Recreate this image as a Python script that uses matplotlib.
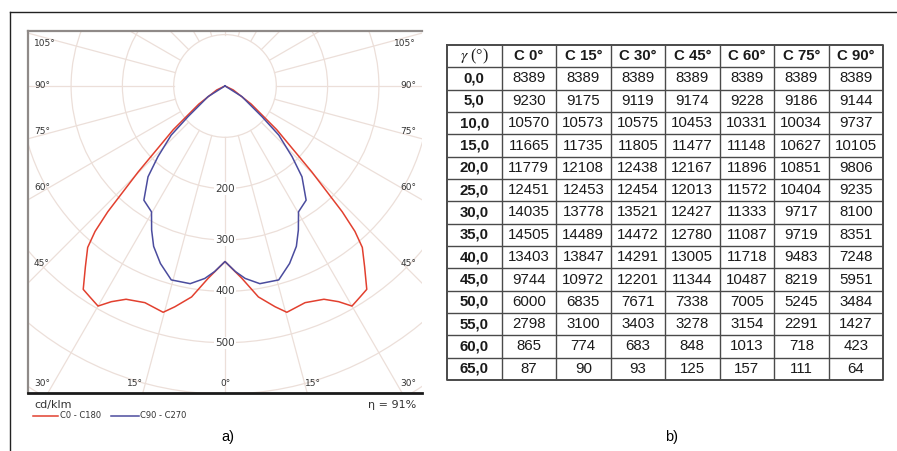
import numpy as np
import matplotlib.pyplot as plt
from matplotlib.patches import Circle
from matplotlib.lines import Line2D

plt.rcParams['mathtext.fontset'] = 'stix'

# a) polar diagram (gamma in deg, cd/klm)
gamma_c0 = [0, 5, 9, 12.8, 15.3, 20.3, 24.9, 27.8, 30, 32.7, 34.9, 37.7,
            40.4, 41.8, 43, 45.3, 49.8, 55.3, 64, 69]
cd_c0 = [342, 376, 416, 441, 457, 450, 458, 475, 495, 488, 483, 445,
         413, 380, 335, 238, 132, 62, 18, 0]
gamma_c90 = [0, 3.2, 6, 10, 15.5, 20, 24, 27, 30.3, 35.4, 40.3, 43.5,
             47.6, 50.3, 57.8, 66]
cd_c90 = [342, 362, 377, 391, 392, 368, 342, 315, 284, 273, 232, 190,
          142, 94, 39, 0]
ring_labels = [200, 300, 400, 500]

# b) table
table_cols = ['C 0°', 'C 15°', 'C 30°', 'C 45°', 'C 60°', 'C 75°', 'C 90°']
table_gamma = ['0,0', '5,0', '10,0', '15,0', '20,0', '25,0', '30,0',
               '35,0', '40,0', '45,0', '50,0', '55,0', '60,0', '65,0']
c0 = [8389, 9230, 10570, 11665, 11779, 12451, 14035, 14505, 13403, 9744, 6000, 2798, 865, 87]
c15 = [8389, 9175, 10573, 11735, 12108, 12453, 13778, 14489, 13847, 10972, 6835, 3100, 774, 90]
c30 = [8389, 9119, 10575, 11805, 12438, 12454, 13521, 14472, 14291, 12201, 7671, 3403, 683, 93]
c45 = [8389, 9174, 10453, 11477, 12167, 12013, 12427, 12780, 13005, 11344, 7338, 3278, 848, 125]
c60 = [8389, 9228, 10331, 11148, 11896, 11572, 11333, 11087, 11718, 10487, 7005, 3154, 1013, 157]
c75 = [8389, 9186, 10034, 10627, 10851, 10404, 9717, 9719, 9483, 8219, 5245, 2291, 718, 111]
c90 = [8389, 9144, 9737, 10105, 9806, 9235, 8100, 8351, 7248, 5951, 3484, 1427, 423, 64]
table_vals = [c0, c15, c30, c45, c60, c75, c90]

W, H = 897, 451
fig = plt.figure(figsize=(W / 100, H / 100), dpi=100)


def fx(x):
    return x / W


def fy(y):
    return 1 - y / H


def ftext(x, y, s, **kw):
    fig.text(fx(x), fy(y), s, **kw)


# outer frame
fig.add_artist(Line2D([fx(10), 1], [fy(12), fy(12)], color='#222222', lw=1))
fig.add_artist(Line2D([fx(10), fx(10)], [fy(12), 0], color='#222222', lw=1))

# ---- polar diagram ----
ax = fig.add_axes([fx(28), fy(393), fx(422) - fx(28), fy(31) - fy(393)])
ax.set_xlim(-384, 384)
ax.set_ylim(-598, 107)
ax.set_xticks([])
ax.set_yticks([])
for s in ['top', 'left']:
    ax.spines[s].set_color('#8f8a88')
    ax.spines[s].set_linewidth(1.6)
ax.spines['bottom'].set_color('#1a1a1a')
ax.spines['bottom'].set_linewidth(2)
ax.spines['right'].set_visible(False)

grid_c = '#ecdfd9'
for r in range(100, 800, 100):
    ax.add_patch(Circle((0, 0), r, fill=False, ec=grid_c, lw=0.9, zorder=1))
for a in range(0, 360, 15):
    t = np.radians(a)
    ax.plot([100 * np.sin(t), 900 * np.sin(t)], [-100 * np.cos(t), -900 * np.cos(t)],
            color=grid_c, lw=0.9, zorder=1)

for r in ring_labels:
    ax.text(0, -r, str(r), ha='center', va='center', fontsize=7.5, color='#3a3a3a',
            zorder=3, bbox=dict(fc='white', ec='none', pad=0.8))


def mirror(g, r):
    g = np.radians(g)
    r = np.asarray(r, float)
    x = r * np.sin(g)
    y = -r * np.cos(g)
    return np.r_[-x[::-1], x[1:]], np.r_[y[::-1], y[1:]]


x0, y0 = mirror(gamma_c0, cd_c0)
x9, y9 = mirror(gamma_c90, cd_c90)
ax.plot(x0, y0, color='#e2402f', lw=1.1, zorder=4)
ax.plot(x9, y9, color='#4b4c9e', lw=1.1, zorder=4)

lab = dict(fontsize=6.5, color='#333333', va='center')
for s, y in [('105°', 43), ('90°', 85), ('75°', 132), ('60°', 188), ('45°', 263)]:
    ftext(34, y, s, ha='left', **lab)
    ftext(416, y, s, ha='right', **lab)
for s, x in [('30°', 42), ('15°', 135), ('0°', 225), ('15°', 313), ('30°', 408)]:
    ftext(x, 383, s, ha='center', **lab)

ftext(34, 405, 'cd/klm', fontsize=8, color='#333333', va='center')
ftext(416, 405, 'η = 91%', fontsize=8, color='#333333', va='center', ha='right')
fig.add_artist(Line2D([fx(33), fx(58)], [fy(416), fy(416)], color='#e2402f', lw=1.1))
ftext(60, 416, 'C0 - C180', fontsize=6, color='#333333', va='center')
fig.add_artist(Line2D([fx(111), fx(139)], [fy(416), fy(416)], color='#4b4c9e', lw=1.1))
ftext(140, 416, 'C90 - C270', fontsize=6, color='#333333', va='center')

ftext(228, 437, 'a)', fontsize=10.5, ha='center', va='center', family='Liberation Sans')
ftext(672, 437, 'b)', fontsize=10.5, ha='center', va='center', family='Liberation Sans')

# ---- table ----
tx = fig.add_axes([fx(447), fy(380), fx(883) - fx(447), fy(45) - fy(380)])
ncol = len(table_cols) + 1
nrow = len(table_gamma) + 1
tx.set_xlim(0, ncol)
tx.set_ylim(nrow, 0)
tx.axis('off')
line_c = '#4a4a4a'
tx.hlines(range(1, nrow), 0, ncol, color=line_c, lw=1.0)
tx.vlines(range(1, ncol), 0, nrow, color=line_c, lw=1.0)
tx.plot([0, ncol, ncol, 0, 0], [0, 0, nrow, nrow, 0], color=line_c, lw=1.4, clip_on=False)

font = dict(family='Liberation Sans', fontsize=10.8, ha='center', va='center', color='#1a1a1a')
tx.text(0.5, 0.5, r'$\gamma$ (°)', family='Liberation Serif', fontsize=11.5,
        ha='center', va='center', color='#1a1a1a')
for j, c in enumerate(table_cols):
    tx.text(j + 1.5, 0.5, c, fontweight='bold', **font)
for i, g in enumerate(table_gamma):
    tx.text(0.5, i + 1.5, g, fontweight='bold', **font)
    for j, col in enumerate(table_vals):
        tx.text(j + 1.5, i + 1.5, str(col[i]), **font)

fig.savefig('out.png', dpi=100)
